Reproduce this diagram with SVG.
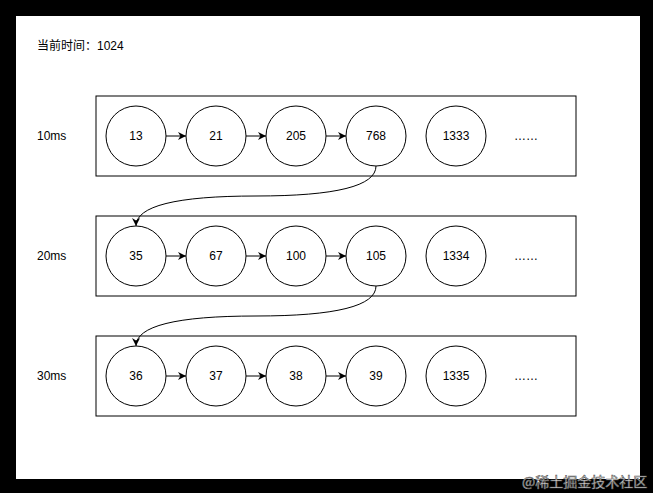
<svg xmlns="http://www.w3.org/2000/svg" width="653" height="493" viewBox="0 0 653 493">
<defs>
<style>
.box{fill:#fff;stroke:#000;stroke-width:1}
.node circle{fill:#fff;stroke:#000;stroke-width:1}
.t{font-family:"Liberation Sans","Noto Sans CJK SC",Arial,sans-serif;font-size:12px;fill:#000}
.c{text-anchor:middle;dominant-baseline:central}
.edge{fill:none;stroke:#000;stroke-width:1}
</style>
<marker id="arr" viewBox="0 0 10 10" refX="10" refY="5" markerWidth="8" markerHeight="8" markerUnits="userSpaceOnUse" orient="auto">
<path d="M0,0 L10,5 L0,10 L3,5 Z" fill="#000"/>
</marker>
</defs>
<rect x="0" y="0" width="653" height="493" fill="#000"/>
<rect x="16" y="16" width="624" height="463" fill="#fff"/>
<text class="t" x="37" y="50">当前时间：1024</text>
<g id="row1">
<rect class="box" x="96" y="96" width="480" height="80"/>
<text class="t" x="37" y="140">10ms</text>
</g>
<g id="row2">
<rect class="box" x="96" y="216" width="480" height="80"/>
<text class="t" x="37" y="260">20ms</text>
</g>
<g id="row3">
<rect class="box" x="96" y="336" width="480" height="80"/>
<text class="t" x="37" y="380">30ms</text>
</g>
<g id="n13" class="node"><circle cx="136" cy="136" r="30"/><text class="t c" x="136" y="136">13</text></g>
<g id="n21" class="node"><circle cx="216" cy="136" r="30"/><text class="t c" x="216" y="136">21</text></g>
<g id="n205" class="node"><circle cx="296" cy="136" r="30"/><text class="t c" x="296" y="136">205</text></g>
<g id="n768" class="node"><circle cx="376" cy="136" r="30"/><text class="t c" x="376" y="136">768</text></g>
<g id="n1333" class="node"><circle cx="456" cy="136" r="30"/><text class="t c" x="456" y="136">1333</text></g>
<g id="d1"><text class="t c" x="526" y="136">……</text></g>
<g id="n35" class="node"><circle cx="136" cy="256" r="30"/><text class="t c" x="136" y="256">35</text></g>
<g id="n67" class="node"><circle cx="216" cy="256" r="30"/><text class="t c" x="216" y="256">67</text></g>
<g id="n100" class="node"><circle cx="296" cy="256" r="30"/><text class="t c" x="296" y="256">100</text></g>
<g id="n105" class="node"><circle cx="376" cy="256" r="30"/><text class="t c" x="376" y="256">105</text></g>
<g id="n1334" class="node"><circle cx="456" cy="256" r="30"/><text class="t c" x="456" y="256">1334</text></g>
<g id="d2"><text class="t c" x="526" y="256">……</text></g>
<g id="n36" class="node"><circle cx="136" cy="376" r="30"/><text class="t c" x="136" y="376">36</text></g>
<g id="n37" class="node"><circle cx="216" cy="376" r="30"/><text class="t c" x="216" y="376">37</text></g>
<g id="n38" class="node"><circle cx="296" cy="376" r="30"/><text class="t c" x="296" y="376">38</text></g>
<g id="n39" class="node"><circle cx="376" cy="376" r="30"/><text class="t c" x="376" y="376">39</text></g>
<g id="n1335" class="node"><circle cx="456" cy="376" r="30"/><text class="t c" x="456" y="376">1335</text></g>
<g id="d3"><text class="t c" x="526" y="376">……</text></g>
<g id="connectors">
<path class="edge" marker-end="url(#arr)" d="M166,136 L186,136"/>
<path class="edge" marker-end="url(#arr)" d="M246,136 L266,136"/>
<path class="edge" marker-end="url(#arr)" d="M326,136 L346,136"/>
<path class="edge" marker-end="url(#arr)" d="M166,256 L186,256"/>
<path class="edge" marker-end="url(#arr)" d="M246,256 L266,256"/>
<path class="edge" marker-end="url(#arr)" d="M326,256 L346,256"/>
<path class="edge" marker-end="url(#arr)" d="M166,376 L186,376"/>
<path class="edge" marker-end="url(#arr)" d="M246,376 L266,376"/>
<path class="edge" marker-end="url(#arr)" d="M326,376 L346,376"/>
<path class="edge" marker-end="url(#arr)" d="M376,166 Q376,196 256,196 Q136,196 136,226"/>
<path class="edge" marker-end="url(#arr)" d="M376,286 Q376,316 256,316 Q136,316 136,346"/>
</g>
<text x="522" y="487" font-family="Noto Sans CJK SC,sans-serif" font-size="14" fill="#fff" stroke="#555" stroke-width="0.6">@稀土掘金技术社区</text>
</svg>
